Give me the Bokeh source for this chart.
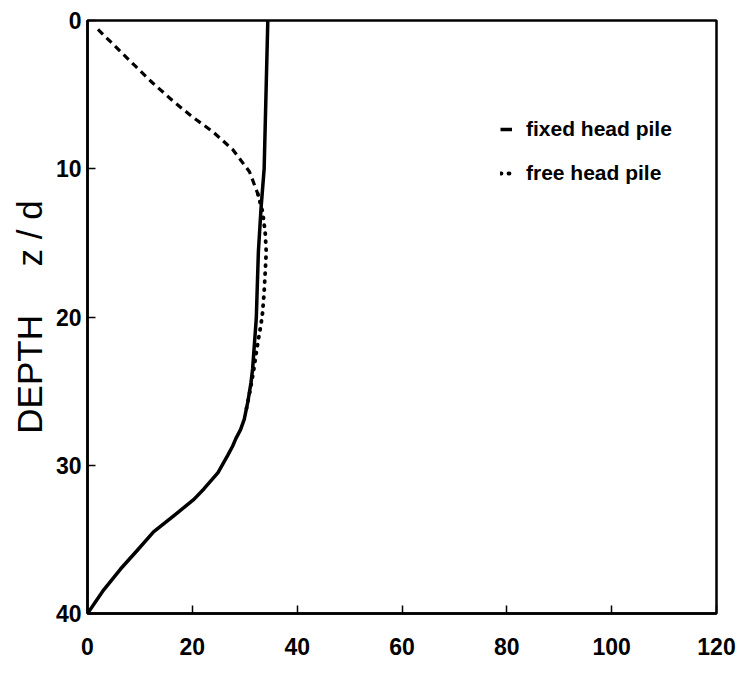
import numpy as np
from bokeh.plotting import figure
from bokeh.models import Range1d, FixedTicker, Legend, LegendItem
from bokeh.embed import file_html
from bokeh.resources import INLINE

# ---- data ----
x_ticks = [0, 20, 40, 60, 80, 100, 120]
y_ticks = [0, 10, 20, 30, 40]

fixed_x = [34.4, 33.7, 33.1, 32.6, 32.2, 31.5, 31.2, 30.6, 29.9, 29.2, 28.3,
           27.7, 26.8, 24.9, 22.2, 20.3, 16.5, 12.6, 9.6, 6.3, 3.1, 0.0]
fixed_z = [0.0, 10.0, 12.7, 15.6, 20.1, 23.5, 24.4, 25.7, 26.9, 27.6, 28.2,
           28.7, 29.3, 30.5, 31.6, 32.3, 33.4, 34.5, 35.7, 37.0, 38.4, 40.0]

free_x = [2.0, 8.9, 12.4, 16.2, 20.0, 23.9, 27.7, 30.9, 32.5, 33.4, 33.9,
          34.1, 33.9, 33.7, 33.4, 33.1, 32.6, 32.2, 31.6, 31.0, 30.2]
free_z = [0.6, 3.0, 4.2, 5.4, 6.5, 7.5, 8.7, 10.2, 11.7, 12.9, 14.3,
          15.6, 17.0, 18.3, 19.7, 20.5, 21.5, 22.4, 23.8, 25.0, 26.4]

series_names = ["fixed head pile", "free head pile"]

# ---- style ----
FONT = "Liberation Sans"
DASH_END_DEPTH = 11.7   # free-head curve is drawn dashed above this depth, dotted below

p = figure(width=741, height=673, output_backend="svg", toolbar_location=None,
           x_range=Range1d(0, 120), y_range=Range1d(40, 0),
           min_border_left=87, min_border_right=25,
           min_border_top=20, min_border_bottom=60)

p.grid.visible = False
p.background_fill_color = "white"
p.border_fill_color = "white"
p.outline_line_color = "black"
p.outline_line_width = 2.5
p.outline_line_alpha = 1.0

for ax in (p.xaxis[0], p.yaxis[0]):
    ax.axis_line_width = 2.5
    ax.axis_line_color = "black"
    ax.major_tick_in = 8
    ax.major_tick_out = 0
    ax.major_tick_line_width = 1.5
    ax.major_tick_line_color = "black"
    ax.minor_tick_line_color = None
    ax.major_label_text_font = FONT
    ax.major_label_text_font_style = "bold"
    ax.major_label_text_font_size = "23px"
    ax.major_label_text_color = "black"

p.xaxis.ticker = FixedTicker(ticks=x_ticks)
p.yaxis.ticker = FixedTicker(ticks=y_ticks)
p.xaxis.major_label_standoff = 24
p.yaxis.major_label_standoff = 6

p.yaxis.axis_label = "DEPTH" + "\u00a0" * 5 + "z / d"
p.yaxis.axis_label_text_font = FONT
p.yaxis.axis_label_text_font_style = "normal"
p.yaxis.axis_label_text_font_size = "35px"
p.yaxis.axis_label_text_color = "black"
p.yaxis.axis_label_standoff = 4

fx = np.array(free_x)
fz = np.array(free_z)
upper = fz <= DASH_END_DEPTH
lower = fz >= DASH_END_DEPTH

r_fixed = p.line(fixed_x, fixed_z, line_color="black", line_width=3.5,
                 line_join="round")
r_free_dash = p.line(fx[upper], fz[upper], line_color="black", line_width=3.2,
                     line_dash="7 5")
r_free_dot = p.line(fx[lower], fz[lower], line_color="black", line_width=3.8,
                    line_dash="1 7", line_cap="round")

legend = Legend(items=[LegendItem(label=series_names[0], renderers=[r_fixed]),
                       LegendItem(label=series_names[1], renderers=[r_free_dot])],
                location=(413, 428))
legend.border_line_color = None
legend.background_fill_alpha = 0
legend.padding = 0
legend.margin = 0
legend.spacing = 20
legend.glyph_width = 12
legend.glyph_height = 20
legend.label_height = 20
legend.label_standoff = 14
legend.label_text_font = FONT
legend.label_text_font_style = "bold"
legend.label_text_font_size = "21px"
legend.label_text_color = "black"
p.add_layout(legend)

open("out.html", "w").write(file_html(p, INLINE))
